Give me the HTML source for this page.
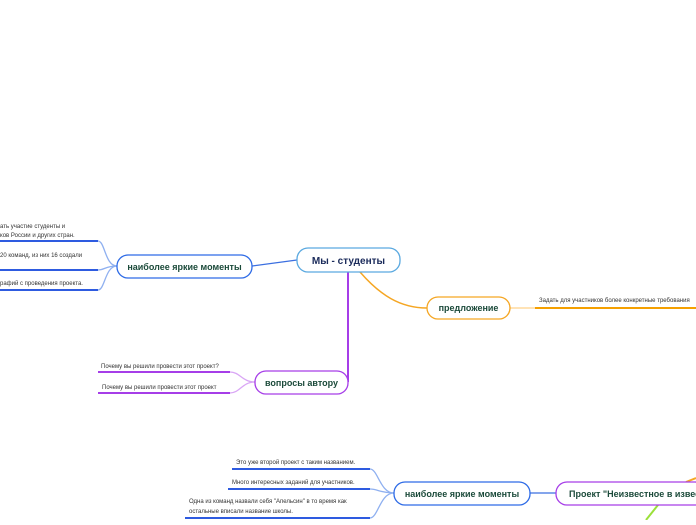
<!DOCTYPE html>
<html><head><meta charset="utf-8"><style>
body{margin:0;width:696px;height:520px;overflow:hidden;background:#fff;font-family:"Liberation Sans","DejaVu Sans",sans-serif}
</style></head><body>
<svg width="696" height="520" xmlns="http://www.w3.org/2000/svg" font-family="Liberation Sans, DejaVu Sans, sans-serif">
<g fill="none" stroke-width="1.3">
<path d="M297 260 L252 266" stroke="#3b6fe0"/>
<path d="M117 266 C105 266 105 241 98 241" stroke="#8fb0f0"/>
<path d="M117 266 C105 266 105 270 98 270" stroke="#8fb0f0"/>
<path d="M117 266 C105 266 105 290 98 290" stroke="#8fb0f0"/>
<path d="M348 272 L348 382" stroke="#a63ee8" stroke-width="2"/>
<path d="M255 382 C242 382 240 372 230 372" stroke="#d9a6f5"/>
<path d="M255 382 C242 382 240 393 230 393" stroke="#d9a6f5"/>
<path d="M360 272 C380 295 400 308 427 308" stroke="#f5a623" stroke-width="1.5"/>
<path d="M510 308 L535 308" stroke="#ffd28a"/>
<path d="M530 493 L556 493" stroke="#3b6fe0"/>
<path d="M394 493 C380 493 378 469 370 469" stroke="#8fb0f0"/>
<path d="M394 493 C380 493 378 489 370 489" stroke="#8fb0f0"/>
<path d="M394 493 C380 493 378 518 370 518" stroke="#8fb0f0"/>
<path d="M658 505 L646 520" stroke="#9be03a" stroke-width="2"/>
<path d="M686 482 L696 478" stroke="#f5a623" stroke-width="2"/>
</g>
<g stroke-width="2">
<line x1="0" y1="241" x2="98" y2="241" stroke="#2e5be0"/>
<line x1="0" y1="270" x2="98" y2="270" stroke="#2e5be0"/>
<line x1="0" y1="290" x2="98" y2="290" stroke="#2e5be0"/>
<line x1="98" y1="372" x2="230" y2="372" stroke="#a63ee8"/>
<line x1="98" y1="393" x2="230" y2="393" stroke="#a63ee8"/>
<line x1="535" y1="308" x2="696" y2="308" stroke="#f5a000"/>
<line x1="232" y1="469" x2="370" y2="469" stroke="#2e5be0"/>
<line x1="228" y1="489" x2="370" y2="489" stroke="#2e5be0"/>
<line x1="185" y1="518" x2="370" y2="518" stroke="#2e5be0"/>
</g>
<g fill="#fff" stroke-width="1.3">
<rect x="297" y="248" width="103" height="24" rx="11" stroke="#5aa9e0"/>
<rect x="117" y="255" width="135" height="23" rx="11" stroke="#2e6be6"/>
<rect x="255" y="371" width="93" height="23" rx="11" stroke="#a63ee8"/>
<rect x="427" y="297" width="83" height="22" rx="11" stroke="#f5a623"/>
<rect x="394" y="482" width="136" height="23" rx="11" stroke="#2e6be6"/>
<rect x="556" y="482" width="150" height="23" rx="11" stroke="#a63ee8"/>
</g>
<g font-weight="bold" fill="#1b4a3a" font-size="9" text-anchor="middle">
<text x="348.5" y="264" fill="#1a2a5a" font-size="10">Мы - студенты</text>
<text x="184.5" y="270">наиболее яркие моменты</text>
<text x="301.5" y="386">вопросы автору</text>
<text x="468.5" y="311">предложение</text>
<text x="462" y="497">наиболее яркие моменты</text>
<text x="569" y="497" text-anchor="start">Проект "Неизвестное в известном"</text>
</g>
<g font-size="6" fill="#333">
<text x="0" y="228">ать участие студенты и</text>
<text x="0" y="237">ков России и других стран.</text>
<text x="0" y="257">20 команд, из них 16 создали</text>
<text x="0" y="285">рафий с проведения проекта.</text>
<text x="101" y="368">Почему вы решили провести этот проект?</text>
<text x="102" y="389">Почему вы решили провести этот проект</text>
<text x="539" y="302">Задать для участников более конкретные требования</text>
<text x="236" y="464">Это уже второй проект с таким названием.</text>
<text x="232" y="484">Много интересных заданий для участников.</text>
<text x="189" y="503">Одна из команд назвали себя "Апельсин" в то время как</text>
<text x="189" y="513">остальные вписали название школы.</text>
</g>
</svg>
</body></html>
